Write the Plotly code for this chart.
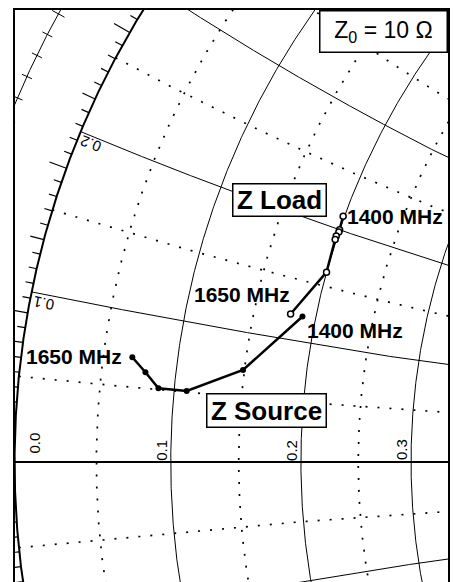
import numpy as np
import plotly.graph_objects as go

# ---------------- data (impedances in ohms) -------------
Z0 = 10.0
# frequency order 1400 MHz -> 1650 MHz
src_R = [1.89, 1.49, 1.09, 0.89, 0.79, 0.69]
src_X = [1.21, 0.71, 0.51, 0.51, 0.61, 0.70]
load_R = [1.99, 2.00, 2.00, 1.99, 1.99, 2.00, 1.79]
load_X = [2.12, 2.00, 1.98, 1.94, 1.91, 1.62, 1.21]
end_labels = ["1400 MHz", "1650 MHz"]

# Smith grid values (normalized)
r_major = [0.1, 0.2, 0.3, 0.4, 0.5]
r_minor = [0.05, 0.15, 0.25, 0.35, 0.45]
x_major = [0.1, 0.2, 0.3, 0.4, 0.5]
x_minor = [0.05, 0.15, 0.25, 0.35, 0.45]
r_labels = [0.0, 0.1, 0.2, 0.3]
x_labels = [0.1, 0.2]

# ---------------- helpers ----------------------------------------------------
PX = 859.0  # pixels per unit of reflection coefficient
FONT = "Liberation Sans, Arial, sans-serif"


def gamma(z):
    return (z - 1) / (z + 1)


def r_circle(r):
    t = np.linspace(0, 2 * np.pi, 2500)
    c = r / (1 + r)
    rho = 1 / (1 + r)
    return list(c + rho * np.cos(t)), list(rho * np.sin(t))


def x_arc(x):
    rr = np.concatenate([np.linspace(0, 1, 2000), np.linspace(1, 50, 500)])
    g = gamma(rr + 1j * x)
    return list(g.real), list(g.imag)


def join(curves):
    xs, ys = [], []
    for cx, cy in curves:
        xs += cx + [None]
        ys += cy + [None]
    return xs, ys


solid = [r_circle(r) for r in r_major] + [x_arc(s * x) for x in x_major for s in (1, -1)]
dotted = [r_circle(r) for r in r_minor] + [x_arc(s * x) for x in x_minor for s in (1, -1)]

fig = go.Figure()

sx, sy = join(solid)
fig.add_trace(go.Scatter(x=sx, y=sy, mode="lines", line=dict(color="black", width=1),
                         hoverinfo="skip"))
dx, dy = join(dotted)
fig.add_trace(go.Scatter(x=dx, y=dy, mode="lines",
                         line=dict(color="black", width=1.7, dash="2px,10px"),
                         hoverinfo="skip"))

# real axis
fig.add_trace(go.Scatter(x=[-1, 1], y=[0, 0], mode="lines",
                         line=dict(color="black", width=2), hoverinfo="skip"))

# unit circle
t = np.linspace(0, 2 * np.pi, 4000)
fig.add_trace(go.Scatter(x=list(np.cos(t)), y=list(np.sin(t)), mode="lines",
                         line=dict(color="black", width=2), hoverinfo="skip"))

# outer wavelength-scale circle
RO = 1.083
fig.add_trace(go.Scatter(x=list(RO * np.cos(t)), y=list(RO * np.sin(t)), mode="lines",
                         line=dict(color="black", width=1), hoverinfo="skip"))

# ticks on unit circle (every degree)
tx, ty = [], []
for k in range(-60, 61):
    a = np.deg2rad(180 - k)
    L = 18 if k % 10 == 0 else (14 if k % 5 == 0 else 8)
    r2 = 1 + L / PX
    tx += [np.cos(a), r2 * np.cos(a), None]
    ty += [np.sin(a), r2 * np.sin(a), None]
fig.add_trace(go.Scatter(x=tx, y=ty, mode="lines", line=dict(color="black", width=1.2),
                         hoverinfo="skip"))

# ticks on wavelength scale (every 0.002 lambda)
wx, wy = [], []
for k in range(-40, 41):
    a = np.deg2rad(180 - k * 1.44)
    L = 7 if k % 5 == 0 else 5.5
    r1, r2 = RO - L / PX, RO + L / PX
    wx += [r1 * np.cos(a), r2 * np.cos(a), None]
    wy += [r1 * np.sin(a), r2 * np.sin(a), None]
fig.add_trace(go.Scatter(x=wx, y=wy, mode="lines", line=dict(color="black", width=1),
                         hoverinfo="skip"))

# data
gs = gamma((np.array(src_R) + 1j * np.array(src_X)) / Z0)
gl = gamma((np.array(load_R) + 1j * np.array(load_X)) / Z0)
fig.add_trace(go.Scatter(x=list(gs.real), y=list(gs.imag), mode="lines+markers",
                         line=dict(color="black", width=2.5),
                         marker=dict(symbol="circle", size=6, color="black"),
                         name="Z Source"))
fig.add_trace(go.Scatter(x=list(gl.real), y=list(gl.imag), mode="lines+markers",
                         line=dict(color="black", width=2.5),
                         marker=dict(symbol="circle", size=6, color="white",
                                     line=dict(color="black", width=1.5)),
                         name="Z Load"))

ann = []
# real axis labels
for r in r_labels:
    g = gamma(r)
    if r == 0:
        g = g + 19 / PX
        xs_, ys_ = 0, 19
    else:
        xs_, ys_ = -10, 12
    ann.append(dict(x=g, y=0, xref="x", yref="y", text=f"{r:.1f}", showarrow=False,
                    textangle=-90, xshift=xs_, yshift=ys_,
                    xanchor="center", yanchor="middle",
                    font=dict(family=FONT, size=15, color="black")))
# reactance labels
for x, ang, shx, shy in zip(x_labels, [-169, -159], [12, 10], [-11, -12]):
    g = gamma(1j * x)
    ann.append(dict(x=g.real, y=g.imag, xref="x", yref="y", text=f"{x:.1f}",
                    showarrow=False, textangle=ang, xshift=shx, yshift=shy,
                    xanchor="center", yanchor="middle",
                    font=dict(family=FONT, size=15, color="black")))

bold = dict(family=FONT, size=21, color="black")
# frequency labels
ann.append(dict(x=gl.real[0], y=gl.imag[0], text=f"<b>{end_labels[0]}</b>", showarrow=False,
                xanchor="left", yanchor="middle", xshift=2, yshift=0, font=bold))
ann.append(dict(x=gl.real[-1], y=gl.imag[-1], text=f"<b>{end_labels[1]}</b>", showarrow=False,
                xanchor="right", yanchor="middle", xshift=1, yshift=20, font=bold))
ann.append(dict(x=gs.real[0], y=gs.imag[0], text=f"<b>{end_labels[0]}</b>", showarrow=False,
                xanchor="left", yanchor="middle", xshift=3, yshift=-14, font=bold))
ann.append(dict(x=gs.real[-1], y=gs.imag[-1], text=f"<b>{end_labels[1]}</b>", showarrow=False,
                xanchor="right", yanchor="middle", xshift=-8, yshift=1, font=bold))

# boxed labels
ann.append(dict(x=0.6106, y=0.6678, xref="paper", yref="paper", text="<b>Z Load</b>",
                xanchor="center", yanchor="middle",
                showarrow=False, font=dict(family=FONT, size=26, color="black"),
                bgcolor="white", bordercolor="black", borderwidth=1.5, borderpad=1,
                width=90, height=29))
ann.append(dict(x=0.5806, y=0.2990, xref="paper", yref="paper", text="<b>Z Source</b>",
                xanchor="center", yanchor="middle",
                showarrow=False, font=dict(family=FONT, size=26, color="black"),
                bgcolor="white", bordercolor="black", borderwidth=1.5, borderpad=1,
                width=116, height=30))
ann.append(dict(x=1, y=1, xref="paper", yref="paper", xanchor="right", yanchor="top",
                text="Z<sub>0</sub> = 10 \u03a9",
                showarrow=False, font=dict(family=FONT, size=23, color="black"),
                bgcolor="white", bordercolor="black", borderwidth=1.5, borderpad=1,
                width=124, height=38))

x0 = -0.9995
y0 = -0.1397
fig.update_layout(
    width=453, height=582,
    margin=dict(l=15, r=5, t=10, b=0),
    paper_bgcolor="white", plot_bgcolor="white",
    showlegend=False,
    annotations=ann,
    xaxis=dict(range=[x0, x0 + 433 / PX], showgrid=False, zeroline=False,
               showticklabels=False, ticks="", showline=True, linecolor="black",
               linewidth=1.5, side="top", mirror=False),
    yaxis=dict(range=[y0, y0 + 572 / PX], showgrid=False, zeroline=False,
               showticklabels=False, ticks="", showline=True, linecolor="black",
               linewidth=1.5, mirror=True),
)

fig.write_html("out.html", config={"displayModeBar": False},
               post_script="document.body.style.margin='0px';"
                           "document.body.style.overflow='hidden';")
